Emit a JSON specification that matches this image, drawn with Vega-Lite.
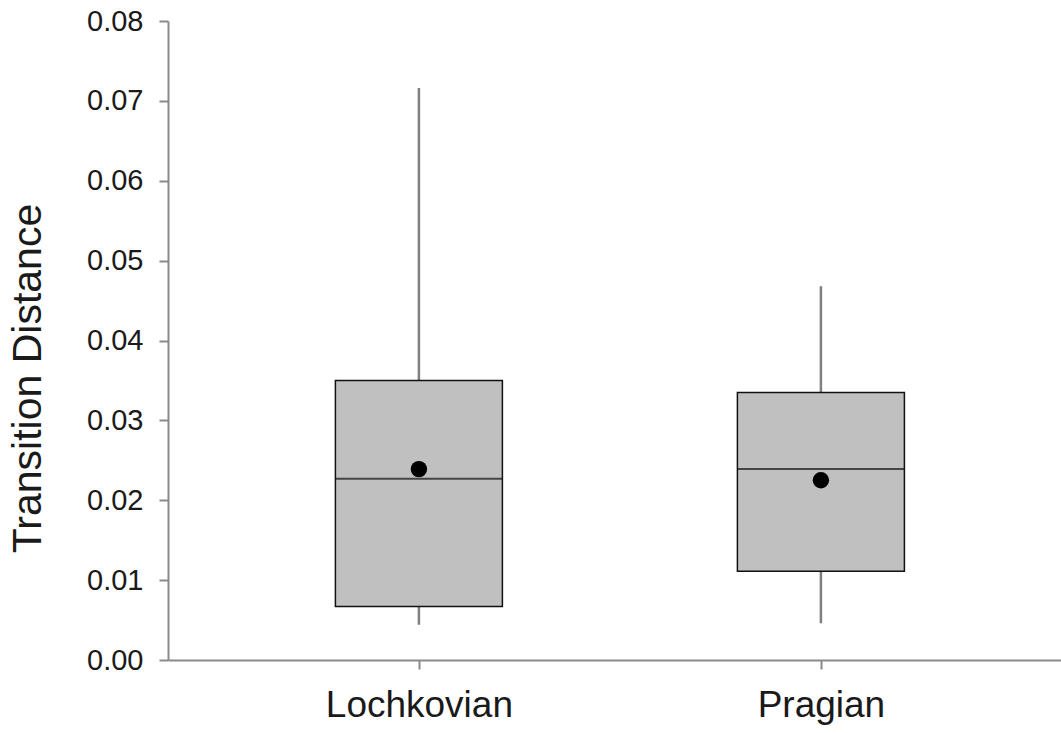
{
  "$schema": "https://vega.github.io/schema/vega-lite/v6.json",
  "width": 893,
  "height": 639,
  "autosize": {"type": "none"},
  "padding": {"left": 168, "top": 21, "right": 0, "bottom": 73},
  "background": "white",
  "config": {
    "view": {"stroke": null},
    "font": "Liberation Sans",
    "axis": {"domainColor": "#8a8a8a", "domainWidth": 2, "tickColor": "#8a8a8a", "tickWidth": 2, "labelColor": "#1a1a1a", "titleColor": "#1a1a1a", "grid": false, "labelFont": "Liberation Sans", "titleFont": "Liberation Sans", "titleFontWeight": "normal", "labelLimit": 400}
  },
  "data": {
    "values": [
      {"period": "Lochkovian", "lo": 0.0044, "q1": 0.0067, "median": 0.0227, "q3": 0.0350, "hi": 0.0716, "mean": 0.0239},
      {"period": "Pragian", "lo": 0.0046, "q1": 0.0111, "median": 0.0239, "q3": 0.0335, "hi": 0.0468, "mean": 0.0225}
    ]
  },
  "encoding": {
    "x": {
      "field": "period", "type": "nominal",
      "scale": {"type": "point", "padding": 0.6107, "align": 0.511},
      "axis": {"title": null, "labelAngle": 0, "labelFontSize": 37, "labelPadding": 18, "tickSize": 9, "labelLimit": 400}
    }
  },
  "layer": [
    {
      "mark": {"type": "rule", "color": "#7f7f7f", "strokeWidth": 2.5},
      "encoding": {
        "y": {"field": "lo", "type": "quantitative", "scale": {"domain": [0, 0.08], "nice": false},
          "axis": {"title": "Transition Distance", "values": [0, 0.01, 0.02, 0.03, 0.04, 0.05, 0.06, 0.07, 0.08], "format": ".2f", "labelFontSize": 29, "tickSize": 9, "labelPadding": 16, "titleFontSize": 41, "titleX": -128, "titleY": 357, "titleBaseline": "alphabetic", "titleAngle": -90}},
        "y2": {"field": "hi"}
      }
    },
    {
      "mark": {"type": "bar", "width": 167, "fill": "#c0c0c0", "stroke": "#111111", "strokeWidth": 1.5},
      "encoding": {
        "y": {"field": "q1", "type": "quantitative"},
        "y2": {"field": "q3"}
      }
    },
    {
      "mark": {"type": "tick", "size": 167, "thickness": 2, "color": "#111111", "orient": "horizontal"},
      "encoding": {
        "y": {"field": "median", "type": "quantitative"}
      }
    },
    {
      "mark": {"type": "point", "filled": true, "shape": "circle", "size": 270, "color": "#000000", "opacity": 1},
      "encoding": {
        "y": {"field": "mean", "type": "quantitative"}
      }
    }
  ]
}
